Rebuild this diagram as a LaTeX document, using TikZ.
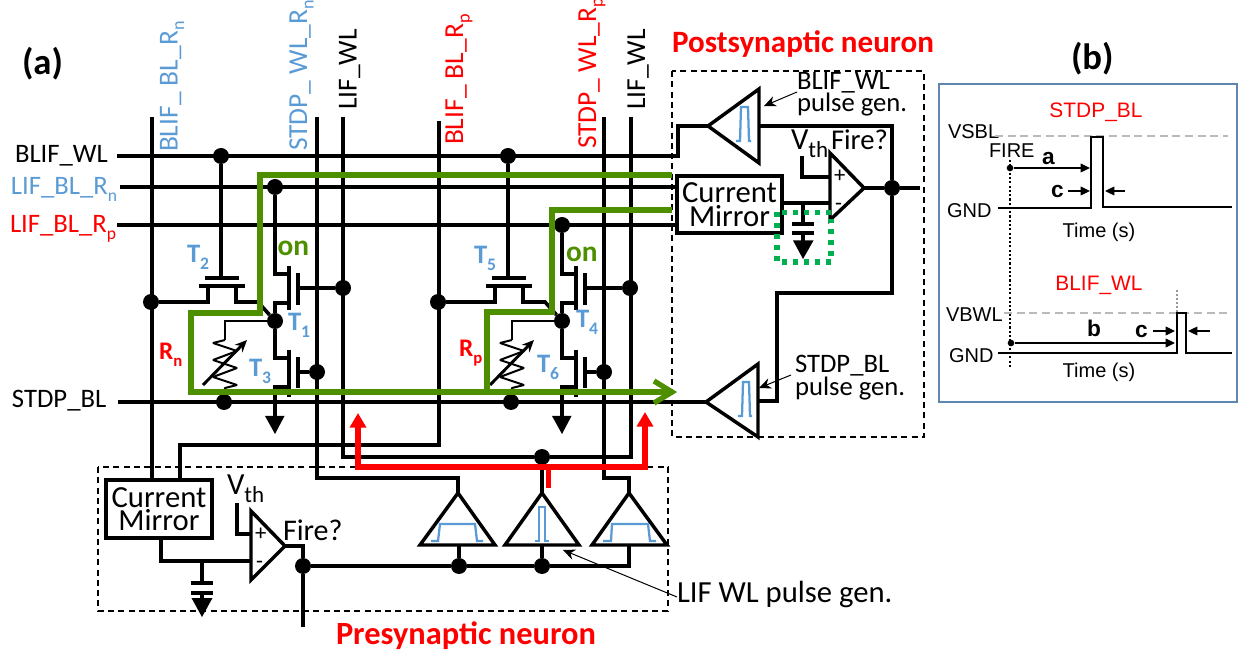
\documentclass[tikz,border=0pt]{standalone}
\usepackage{fontspec}
\setmainfont{Carlito}
\newfontfamily\arialf{Liberation Sans}
\usetikzlibrary{arrows.meta,calc}
\definecolor{lblue}{HTML}{5B9BD5}
\definecolor{tgreen}{HTML}{4E8F00}
\definecolor{dgreen}{HTML}{00B050}
\definecolor{boxblue}{HTML}{5F86AE}
\newcommand{\sbx}[2][.66]{\raisebox{-.24em}{\scalebox{#1}{#2}}}
\newcommand{\fs}[1]{\fontsize{#1}{#1}\selectfont}
\tikzset{
 wire/.style={line width=2.7pt,draw=black},
 twire/.style={line width=2.1pt,draw=black},
 gwire/.style={line width=4pt,draw=tgreen},
 rwire/.style={line width=4.2pt,draw=red},
 dot/.style={circle,fill=black,inner sep=0pt,minimum size=12pt},
 txt/.style={inner sep=0pt,outer sep=0pt,anchor=base west},
 lab/.style={txt,font=\fs{20}},
 rlab/.style={txt,font=\fs{20.6},rotate=90},
 tlab/.style={txt,font=\fs{20}\bfseries,text=lblue},
 mirror/.style={draw=black,line width=2.6pt,inner sep=0pt,align=center,font=\fontsize{23}{17.5}\selectfont,fill=white},
 tri/.style={draw=black,line width=2.6pt,line join=miter},
 pulse/.style={draw=lblue,line width=1.7pt},
 dashbox/.style={draw=black,line width=.9pt,dash pattern=on 4.5pt off 3.2pt},
 note/.style={line width=.75pt,draw=black,-{Stealth[length=9pt,width=8pt]}},
 bw/.style={line width=1.9pt,draw=black},
 bar/.style={line width=1pt,draw=black,-{Triangle[length=7pt,width=6.5pt]}},
 graydash/.style={line width=1.3pt,draw=black!27,dash pattern=on 6pt off 3.5pt},
 atxt/.style={txt,font=\arialf\fs{15}},
 btxt/.style={txt,font=\arialf\fs{17}\bfseries},
 ctr/.style={inner sep=0pt,outer sep=0pt,font=\arialf\fs{15}},
 ctrh/.style={inner sep=0pt,outer sep=0pt,font=\arialf\fs{15.7}}
}
% one synapse cell; #1 = y of the rail that feeds the upper transistor
\newcommand{\synapsecell}[1]{%
 \node[dot] (wldot) at (221,156) {};
 \node[dot] (bldot) at (151,302) {};
 \node[dot] (raildot) at (275,#1) {};
 \node[dot] (mid) at (275,321) {};
 \node[dot] (gateA) at (343,288) {};
 \node[dot] (gateB) at (317,372) {};
 \node[dot] (resdot) at (224,402) {};
 \coordinate (gp) at (221,278);
 % T2 / T5
 \draw[wire] (wldot) -- (gp);
 \draw[wire] (205,278) -- (239,278);
 \draw[wire] (199,286) -- (245,286);
 \draw[wire] (bldot) -- (208,302) -- (208,286);
 \draw[wire] (236,286) -- (236,302) -- (258,302) -- (mid);
 % T1 / T4
 \draw[wire] (raildot) -- (275,274) -- (289,274);
 \draw[wire] (289,266) -- (289,310);
 \draw[wire] (298,273) -- (298,305);
 \draw[wire] (298,288) -- (gateA);
 \draw[wire] (289,303) -- (275,303) -- (mid);
 % T3 / T6
 \draw[wire] (mid) -- (275,358) -- (289,358);
 \draw[wire] (289,350) -- (289,397);
 \draw[wire] (298,357) -- (298,388);
 \draw[wire] (298,372) -- (gateB);
 \draw[wire] (289,387) -- (275,387) -- (275,418);
 \fill (265,416) -- (284.5,416) -- (275,434) -- cycle;
 % resistor
 \draw[twire] (mid) -- (225,321) -- (225,340);
 \draw[line width=1.5pt,line join=bevel] (225,340) -- (213,343) -- (237,351) -- (213,360) -- (237,368) -- (213,377) -- (237,385) -- (225,388) -- (resdot);
 \draw[line width=2.2pt,-{Stealth[length=9pt,width=8pt]}] (203,385) -- (247,340);
}
\begin{document}
\begin{tikzpicture}[x=.75pt,y=-.75pt]
\useasboundingbox (0,0) rectangle (1242,655);
% row ends
\coordinate (bwS) at (117,156); \coordinate (bwE) at (678,156);
\coordinate (rnS) at (120,187); \coordinate (rnE) at (677,187);
\coordinate (rpS) at (117,225); \coordinate (rpE) at (677,225);
\coordinate (sbS) at (118,402);
% pulse generator triangles, post
\coordinate (tipBW) at (708,126);
\coordinate (tipSB) at (706,402);
\draw[wire] (bwS) -- (bwE) -- (678,126) -- (tipBW);
\draw[wire] (rnS) -- (rnE);
\draw[wire] (rpS) -- (rpE);
\draw[wire] (sbS) -- (tipSB);
% columns
\node[mirror,minimum width=106pt*.75,minimum height=58pt*.75] (cmPre) at (159,509) {Current\\Mirror};
\node[mirror,minimum width=105pt*.75,minimum height=57pt*.75] (cmPost) at (729.5,204.5) {Current\\Mirror};
\draw[wire] (152,117) -- (152,480);
\draw[wire] (439,121) -- (439,445) -- (180,445) -- (180,480);
\coordinate (ap1) at (458,493); \coordinate (ap2) at (542,493); \coordinate (ap3) at (629,493);
\draw[wire] (317,117) -- (317,478) -- (458,478) -- (ap1);
\draw[wire] (604,117) -- (604,478) -- (629,478) -- (ap3);
\node[dot] (pulseTop) at (542,457) {};
\draw[wire] (343,117) -- (343,457) -- (pulseTop);
\draw[wire] (631,117) -- (631,457) -- (pulseTop);
\draw[wire] (pulseTop) -- (ap2);
% lower pulse generators
\draw[tri] (ap1) -- (420,545) -- (495,545) -- cycle;
\draw[tri] (ap2) -- (505,545) -- (579,545) -- cycle;
\draw[tri] (ap3) -- (592,545) -- (667,545) -- cycle;
\draw[pulse] (431,541) -- (438,541) -- (440,524) -- (475,524) -- (477,541) -- (483,541);
\draw[pulse] (535,541) -- (539,541) -- (539,507) -- (545,507) -- (545,541) -- (549,541);
\draw[pulse] (603,541) -- (611,541) -- (612,524) -- (648,524) -- (650,541) -- (656,541);
% presynaptic circuit
\coordinate (cmpPre) at (285,546);
\node[dot] (fireDot) at (303,566) {};
\node[dot] (d1) at (459,566) {};
\node[dot] (d2) at (542,566) {};
\draw[tri] (cmpPre) -- (251,511) -- (251,580) -- cycle;
\draw[wire] (cmpPre) -- (303,546) -- (fireDot);
\draw[wire] (fireDot) -- (303,627);
\draw[wire] (fireDot) -- (d1);
\draw[wire] (d1) -- (d2);
\draw[wire] (d2) -- (629,566) -- (629,545);
\draw[wire] (d1) -- (459,545);
\draw[wire] (d2) -- (542,545);
\draw[wire] (237,503) -- (237,534) -- (251,534);
\draw[wire] (161,538) -- (161,561) -- (251,561);
\draw[wire] (202,561) -- (202,583);
\draw[wire] (191,583) -- (213,583);
\draw[wire] (191,593) -- (213,593);
\draw[wire] (202,593) -- (202,600);
\fill (191.5,598) -- (212.5,598) -- (202,617) -- cycle;
\node[txt,font=\fs{17}] (plusPre) at (255,540) {+};
\node[txt,font=\fs{17}] (minusPre) at (256,568) {-};
% cells
\begin{scope}[name prefix=n-]\synapsecell{187}\end{scope}
\begin{scope}[xshift=215.25pt,name prefix=p-]\synapsecell{225}\end{scope}
% postsynaptic circuit
\draw[tri,fill=white] (tipBW) -- (759,89) -- (759,163) -- cycle;
\draw[tri,fill=white] (tipSB) -- (758,364) -- (758,437) -- cycle;
\draw[pulse] (736,141) -- (740,141) -- (741,107) -- (748,107) -- (749,141) -- (751,141);
\draw[pulse] (738,416) -- (742,416) -- (743,382) -- (749,382) -- (750,416) -- (752,416);
\node[dot] (fireP) at (892,188) {};
\coordinate (cmpPost) at (864,188);
\draw[tri] (cmpPost) -- (830,153) -- (830,220) -- cycle;
\draw[wire] (cmpPost) -- (fireP);
\draw[wire] (fireP) -- (920,188);
\draw[wire] (759,126) -- (892,126) -- (fireP);
\draw[wire] (fireP) -- (892,293) -- (777,293) -- (777,401) -- (758,401);
\draw[wire] (802,156) -- (802,177) -- (830,177);
\draw[wire] (782,203) -- (830,203);
\draw[wire] (803,203) -- (803,224);
\draw[wire] (792,224) -- (814,224);
\draw[wire] (792,233) -- (814,233);
\draw[wire] (803,233) -- (803,242);
\fill (793,240.5) -- (813.5,240.5) -- (803,259) -- cycle;
\node[txt,font=\fs{17}] (plusPost) at (834,183) {+};
\node[txt,font=\fs{17}] (minusPost) at (835,211) {-};
\draw[draw=dgreen,line width=3.8pt,dash pattern=on 3.6pt off 4.6pt] (777,212.5) rectangle (831,262);
% dashed blocks
\draw[dashbox] (98,467) rectangle (668,611);
\draw[dashbox] (672,71) rectangle (924,437);
% green current paths
\draw[gwire] (672,175) -- (260,175) -- (260,313) -- (191,313) -- (191,392) -- (672,392);
\draw[gwire] (672,210) -- (552,210) -- (552,312) -- (487,312) -- (487,392);
\draw[gwire,line join=miter] (654,381) -- (672,392) -- (654,403);
% red pulse path
\coordinate (redL) at (358,413); \coordinate (redR) at (645,412);
\draw[rwire,{Triangle[length=11pt,width=12pt]}-{Triangle[length=11pt,width=12pt]}] (redL) -- (358,467) -- (645,467) -- (redR);
\draw[rwire] (548.5,467) -- (548.5,488);
% row labels
\node[lab] (lBW) at (15,163) {BLIF\_WL};
\node[lab,text=lblue] (lRn) at (11,195) {LIF\_BL\_R\sbx{n}};
\node[lab,text=red] (lRp) at (10,233) {LIF\_BL\_R\sbx{p}};
\node[lab] (lSB) at (12,408) {STDP\_BL};
% column labels
\node[rlab,text=lblue] (c1) at (177.6,152) {BLIF\_ BL\_R\sbx{n}};
\node[rlab,text=lblue] (c2) at (307,151) {STDP\_ WL\_R\sbx{n}};
\node[rlab] (c3) at (356.5,110) {LIF\_WL};
\node[rlab,text=red] (c4) at (463,145) {BLIF\_ BL\_R\sbx{p}};
\node[rlab,text=red] (c5) at (596,149) {STDP\_ WL\_R\sbx{p}};
\node[rlab] (c6) at (645,110) {LIF\_WL};
% device labels
\node[tlab] (t2) at (187,263) {T\sbx{2}};
\node[tlab] (t1) at (288,331) {T\sbx{1}};
\node[tlab] (t3) at (249,377) {T\sbx{3}};
\node[tlab] (t5) at (474,264) {T\sbx{5}};
\node[tlab] (t4) at (576,328) {T\sbx{4}};
\node[tlab] (t6) at (537,373) {T\sbx{6}};
\node[txt,font=\fs{22}\bfseries,text=tgreen] (on1) at (277.5,256) {on};
\node[txt,font=\fs{22}\bfseries,text=tgreen] (on2) at (566,262) {on};
\node[txt,font=\fs{19}\bfseries,text=red] (rn) at (159,360) {R\sbx{n}};
\node[txt,font=\fs{19}\bfseries,text=red] (rp) at (459,357) {R\sbx{p}};
% circuit labels
\node[txt,font=\fs{23}] (vthPost) at (791,150) {V\sbx[.75]{th}};
\node[txt,font=\fs{21.5}] (firePost) at (831,150) {Fire?};
\node[txt,font=\fs{23}] (vthPre) at (227,495) {V\sbx[.75]{th}};
\node[txt,font=\fs{22.5}] (firePre) at (283,540) {Fire?};
\node[lab] (g1a) at (797,90) {BLIF\_WL};
\node[lab] (g1b) at (797,112) {pulse gen.};
\node[lab] (g2a) at (795,373) {STDP\_BL};
\node[lab] (g2b) at (795,396) {pulse gen.};
\node[txt,font=\fs{23}] (g3) at (677,602) {LIF WL pulse gen.};
\coordinate (n1) at (797,92); \coordinate (n1e) at (764,106);
\coordinate (n2) at (791,375); \coordinate (n2e) at (759,388);
\coordinate (n3) at (677,597); \coordinate (n3e) at (563,550);
\draw[note] (n1) -- (n1e);
\draw[note] (n2) -- (n2e);
\draw[note] (n3) -- (n3e);
\node[txt,font=\fs{23.3}\bfseries,text=red] (post) at (672,53) {Postsynaptic neuron};
\node[txt,font=\fs{24.3}\bfseries,text=red] (pre) at (336,644) {Presynaptic neuron};
\node[txt,font=\fs{27.5}\bfseries] (pa) at (22,75) {(a)};
\node[txt,font=\fs{27.5}\bfseries] (pb) at (1071,70) {(b)};
% panel b
\draw[draw=boxblue,line width=1.6pt] (939,84) rectangle (1237,402);
\node[ctrh,text=red] (s1) at (1096,112) {STDP\_BL};
\node[ctrh,text=red] (s2) at (1099,285) {BLIF\_WL};
\node[atxt] (vs) at (948,139) {VSBL};
\node[atxt] (fr) at (989,158) {FIRE};
\node[atxt] (g1) at (947,218) {GND};
\node[atxt] (vb) at (946,322) {VBWL};
\node[atxt] (g2) at (949,363) {GND};
\node[ctr] (ts1) at (1099,232) {Time (s)};
\node[ctr] (ts2) at (1099,372) {Time (s)};
\node[btxt] (la) at (1042,165) {a};
\node[btxt] (lc1) at (1051,198) {c};
\node[btxt] (lb) at (1087,337) {b};
\node[btxt] (lc2) at (1135,338) {c};
\coordinate (gA) at (995,136); \coordinate (gB) at (1228,136);
\coordinate (gC) at (1004,313); \coordinate (gD) at (1228,313);
\draw[graydash] (gA) -- (gB);
\draw[graydash] (gC) -- (gD);
\draw[line width=1pt,draw=black!40,dash pattern=on 1.5pt off 1.5pt] (1177,290) -- (1177,313);
\draw[line width=1.3pt,dash pattern=on 1.6pt off 1.6pt] (1010,160) -- (1010,367);
\draw[bw] (998,208) -- (1091,208) -- (1091,137) -- (1103,137) -- (1103,207) -- (1232,207);
\draw[bw] (998,353) -- (1177,353) -- (1177,313) -- (1186,313) -- (1186,353) -- (1232,353);
\node[circle,fill=black,inner sep=0pt,minimum size=5pt] (fa) at (1010,168) {};
\node[circle,fill=black,inner sep=0pt,minimum size=5pt] (fb) at (1011,343) {};
\draw[bar] (fa) -- (1090,168);
\draw[bar] (fb) -- (1175,343);
\draw[bar] (1068,191) -- (1090,191);
\draw[bar] (1125,191) -- (1105,191);
\draw[bar] (1153,331) -- (1175,331);
\draw[bar] (1210,331) -- (1188,331);
\end{tikzpicture}
\end{document}
